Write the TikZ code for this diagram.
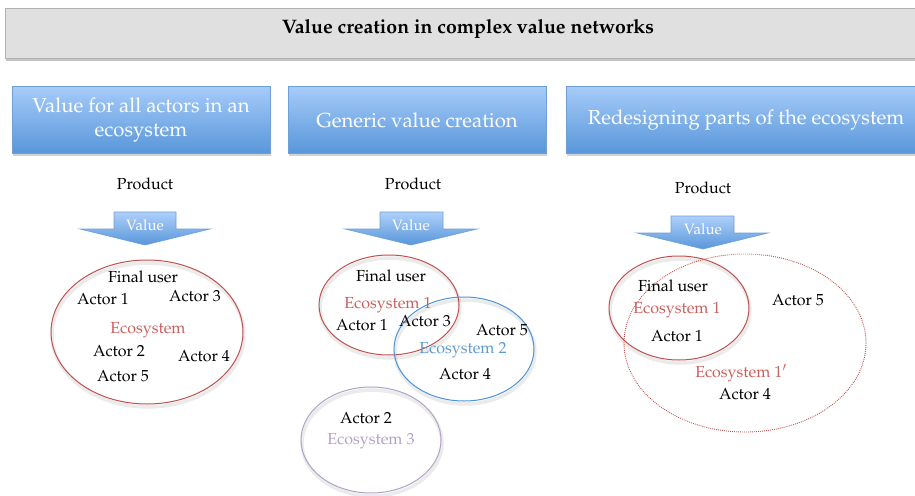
\documentclass[tikz,border=0pt]{standalone}
\usepackage[T1]{fontenc}
\usepackage{mathpazo}
\usetikzlibrary{shadows,calc}
\definecolor{ered}{HTML}{C0504D}
\definecolor{etxt}{HTML}{C9605C}
\definecolor{eblue}{HTML}{4F94DA}
\definecolor{ebtxt}{HTML}{5B9BD5}
\definecolor{epur}{HTML}{B3A2C7}
\definecolor{hdtop}{HTML}{A6CBF9}
\definecolor{hdbot}{HTML}{5896DA}
\definecolor{hdline}{HTML}{6E9FD6}
\tikzset{
  hdbox/.style={draw=hdline, line width=0.6pt, top color=hdtop, bottom color=hdbot,
    drop shadow={opacity=0.35, shadow xshift=1pt, shadow yshift=-2pt},
    text=white, align=center, font=\fontsize{20.3}{24}\selectfont, inner sep=0pt},
  lbl/.style={font=\fontsize{16}{18}\selectfont, inner sep=0pt, text=black},
  eco/.style={font=\fontsize{16}{18}\selectfont, inner sep=0pt},
  varrow/.style={draw=hdline, line width=0.6pt, top color=hdtop!90!white, bottom color=hdbot},
  vtxt/.style={font=\fontsize{15}{17}\selectfont, text=white, inner sep=0pt},
  ell/.style={line width=1pt},
  shad/.style={line width=3.5pt, draw=black, opacity=0.08},
}
\begin{document}
\begin{tikzpicture}[x=1pt,y=-1pt]
\useasboundingbox (0,0) rectangle (915,495);
\fill[white] (0,0) rectangle (915,495);
% title bar
\node[draw=gray!60, fill=black!12, minimum width=920pt, minimum height=50pt, inner sep=0pt,
  drop shadow={opacity=0.45, shadow xshift=1pt, shadow yshift=-3pt}] (title) at (465,33) {};
\node[font=\bfseries\fontsize{19.5}{22}\selectfont, inner sep=0pt] (tt) at (468,29) {Value creation in complex value networks};
% header boxes
\node[hdbox, minimum width=258pt, minimum height=67pt] (h1) at (141,120)
  {Value for all actors in an\\ ecosystem};
\node[hdbox, minimum width=258pt, minimum height=67pt] (h2) at (417,120) {Generic value creation};
\node[hdbox, minimum width=360pt, minimum height=67pt] (h3) at (746,120) {Redesigning parts of the ecosystem};
% products
\node[lbl] (p1) at (145,184) {Product};
\node[lbl] (p2) at (413,184) {Product};
\node[lbl] (p3) at (703,188) {Product};
% value arrows
\draw[varrow] (114,212) -- (176,212) -- (176,229) -- (210,229) -- (145,245) -- (80,229) -- (114,229) -- cycle;
\node[vtxt] (v1) at (145,225) {Value};
\draw[varrow] (380,212) -- (443,212) -- (443,229) -- (477,229) -- (411,245) -- (345,229) -- (380,229) -- cycle;
\node[vtxt] (v2) at (411,225) {Value};
\draw[varrow] (671,216) -- (734,216) -- (734,233) -- (768,233) -- (703,249) -- (637,233) -- (671,233) -- cycle;
\node[vtxt] (v3) at (703,229) {Value};
% ---------- ecosystem 1
\draw[shad] (148,335) ellipse [x radius=96, y radius=72];
\draw[ell, ered] (147,332) ellipse [x radius=96, y radius=72];
\node[lbl] (a1fu) at (143,277) {Final user};
\node[lbl] (a1a1) at (103,299) {Actor 1};
\node[lbl] (a1a3) at (195,296) {Actor 3};
\node[eco, etxt] (a1e) at (148,330) {Ecosystem};
\node[lbl] (a1a2) at (119,351) {Actor 2};
\node[lbl] (a1a4) at (204,356) {Actor 4};
\node[lbl] (a1a5) at (123,376) {Actor 5};
% ---------- ecosystem 2
\draw[shad] (390,308) ellipse [x radius=70, y radius=50];
\draw[shad] (465,352) ellipse [x radius=70, y radius=52];
\draw[shad] (372,443) ellipse [x radius=70, y radius=53];
\draw[ell, ered] (389,305) ellipse [x radius=70, y radius=50];
\draw[ell, eblue] (464,349) ellipse [x radius=70, y radius=52];
\draw[ell, epur] (371,440) ellipse [x radius=70, y radius=53];
\node[lbl] (b1fu) at (391,276) {Final user};
\node[eco, etxt] (b1e) at (388,305) {Ecosystem 1};
\node[lbl] (b1a1) at (362,325) {Actor 1};
\node[lbl] (b1a3) at (425,321) {Actor 3};
\node[lbl] (b2a5) at (502,330) {Actor 5};
\node[eco, ebtxt] (b2e) at (463,350) {Ecosystem 2};
\node[lbl] (b2a4) at (465,374) {Actor 4};
\node[lbl] (b3a2) at (366,418) {Actor 2};
\node[eco, epur] (b3e) at (371,441) {Ecosystem 3};
% ---------- ecosystem 3
\draw[shad] (680,311) ellipse [x radius=70, y radius=52];
\draw[ell, ered] (679,308) ellipse [x radius=70, y radius=52];
\draw[ered, line width=0.9pt, dash pattern=on 0.9pt off 1.1pt] (745,343) ellipse [x radius=121, y radius=89];
\node[lbl] (c1fu) at (673,286) {Final user};
\node[eco, etxt] (c1e) at (677,310) {Ecosystem 1};
\node[lbl] (c1a1) at (677,336) {Actor 1};
\node[lbl] (c2a5) at (798,300) {Actor 5};
\node[eco, etxt] (c2e) at (741,373) {Ecosystem 1$'$};
\node[lbl] (c2a4) at (745,394) {Actor 4};
\end{tikzpicture}
\end{document}
